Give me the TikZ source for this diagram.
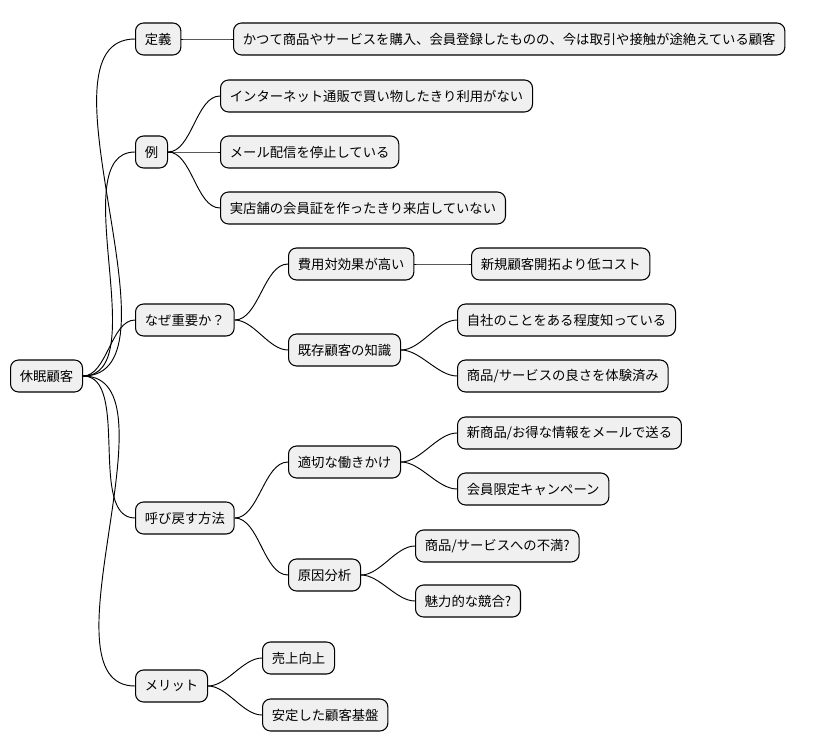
\documentclass[tikz,border=0pt]{standalone}
\usepackage{fontspec}
\setmainfont{Noto Sans CJK JP}
\begin{document}
\begin{tikzpicture}[x=0.75pt,y=-0.75pt,
  topic/.style={draw=black, line width=0.8pt, fill=black!6, rounded corners=6pt,
    minimum height=24pt, inner xsep=7pt, anchor=west, font=\fontsize{10}{12}\selectfont},
  branch/.style={line width=0.7pt, out=0, in=180, looseness=0.8}]
  \useasboundingbox (0,0) rectangle (824,752);
  % root
  \node[topic] (root) at (10,376) {休眠顧客};
  % first level
  \node[topic] (def) at (135,39) {定義};
  \node[topic] (ex) at (135,152) {例};
  \node[topic] (why) at (135,320) {なぜ重要か？};
  \node[topic] (how) at (135,518) {呼び戻す方法};
  \node[topic] (merit) at (135,686) {メリット};
  % definition
  \node[topic] (defa) at (233,39) {かつて商品やサービスを購入、会員登録したものの、今は取引や接触が途絶えている顧客};
  % examples
  \node[topic] (exa) at (220,96) {インターネット通販で買い物したきり利用がない};
  \node[topic] (exb) at (220,152) {メール配信を停止している};
  \node[topic] (exc) at (220,208) {実店舗の会員証を作ったきり来店していない};
  % why
  \node[topic] (cost) at (288,264) {費用対効果が高い};
  \node[topic] (costa) at (471,264) {新規顧客開拓より低コスト};
  \node[topic] (know) at (288,350) {既存顧客の知識};
  \node[topic] (knowa) at (457,320) {自社のことをある程度知っている};
  \node[topic] (knowb) at (457,376) {商品/サービスの良さを体験済み};
  % how
  \node[topic] (act) at (288,462) {適切な働きかけ};
  \node[topic] (acta) at (457,433) {新商品/お得な情報をメールで送る};
  \node[topic] (actb) at (457,489) {会員限定キャンペーン};
  \node[topic] (cause) at (288,575) {原因分析};
  \node[topic] (causea) at (415,546) {商品/サービスへの不満?};
  \node[topic] (causeb) at (415,601) {魅力的な競合?};
  % merit
  \node[topic] (mera) at (262,658) {売上向上};
  \node[topic] (merb) at (262,715) {安定した顧客基盤};
  % connectors
  \foreach \a/\b in {root/def, root/ex, root/why, root/how, root/merit,
    def/defa, ex/exa, ex/exb, ex/exc, why/cost, why/know, cost/costa,
    know/knowa, know/knowb, how/act, how/cause, act/acta, act/actb,
    cause/causea, cause/causeb, merit/mera, merit/merb}
    \draw[branch] (\a.east) to (\b.west);
\end{tikzpicture}
\end{document}
